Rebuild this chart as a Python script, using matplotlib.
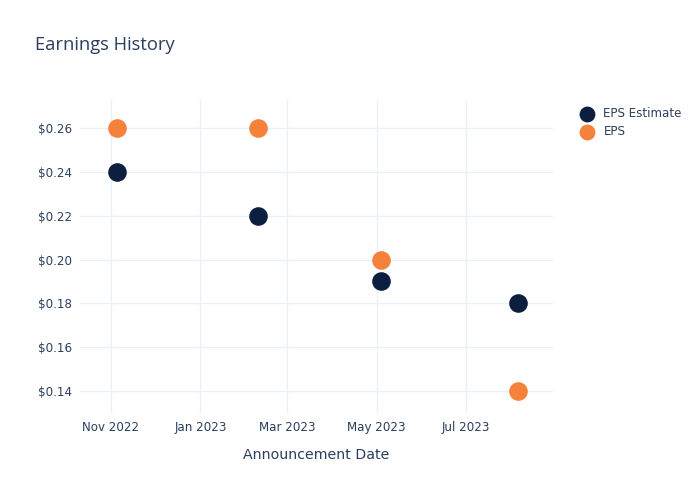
import matplotlib
matplotlib.use("Agg")
import matplotlib.pyplot as plt
import pandas as pd

INK = "#2a3f5f"; GRID = "#ebf0f8"
C_EST = "#0c1f3f"; C_EPS = "#f5813a"

dates = pd.to_datetime(["2022-11-05", "2023-02-09", "2023-05-04", "2023-08-05"])
eps_estimate = [0.24, 0.22, 0.19, 0.18]
eps_actual = [0.26, 0.26, 0.20, 0.14]
tick_dates = pd.to_datetime(["2022-11-01", "2023-01-01", "2023-03-01", "2023-05-01", "2023-07-01"])
tick_labels = ["Nov 2022", "Jan 2023", "Mar 2023", "May 2023", "Jul 2023"]
y_ticks = [0.14, 0.16, 0.18, 0.20, 0.22, 0.24, 0.26]

plt.rcParams.update({"font.family": ["DejaVu Sans"], "text.color": INK})

fig = plt.figure(figsize=(7, 5), dpi=100)
ax = fig.add_axes([80 / 700, 87 / 500, 473 / 700, 313 / 500])

ax.scatter(dates, eps_estimate, s=180, color=C_EST, zorder=3, label="EPS Estimate", linewidths=0)
ax.scatter(dates, eps_actual, s=180, color=C_EPS, zorder=3, label="EPS", linewidths=0)

ax.set_xlim(pd.Timestamp("2022-10-11"), pd.Timestamp("2023-08-29"))
ax.set_ylim(0.13, 0.2728)
ax.set_xticks(tick_dates, tick_labels)
ax.set_yticks(y_ticks, [f"${v:.2f}" for v in y_ticks])
ax.tick_params(length=0, labelsize=8.6, colors=INK, pad=6)
ax.grid(True, color=GRID, linewidth=1, zorder=0)
for s in ax.spines.values():
    s.set_visible(False)
ax.set_xlabel("Announcement Date", fontsize=10.2, color=INK, labelpad=10)

fig.text(35 / 700, 1 - 45 / 500, "Earnings History", fontsize=13.2, color=INK, va="center",
         family=["Open Sans", "DejaVu Sans"])
ax.legend(loc="upper left", bbox_to_anchor=(570 / 700, 1 - 102 / 500), bbox_transform=fig.transFigure,
          frameon=False, fontsize=8.6, labelcolor=INK, handletextpad=0.4,
          labelspacing=0.45, markerscale=0.85, borderaxespad=0)

fig.savefig("out.png", dpi=100)
